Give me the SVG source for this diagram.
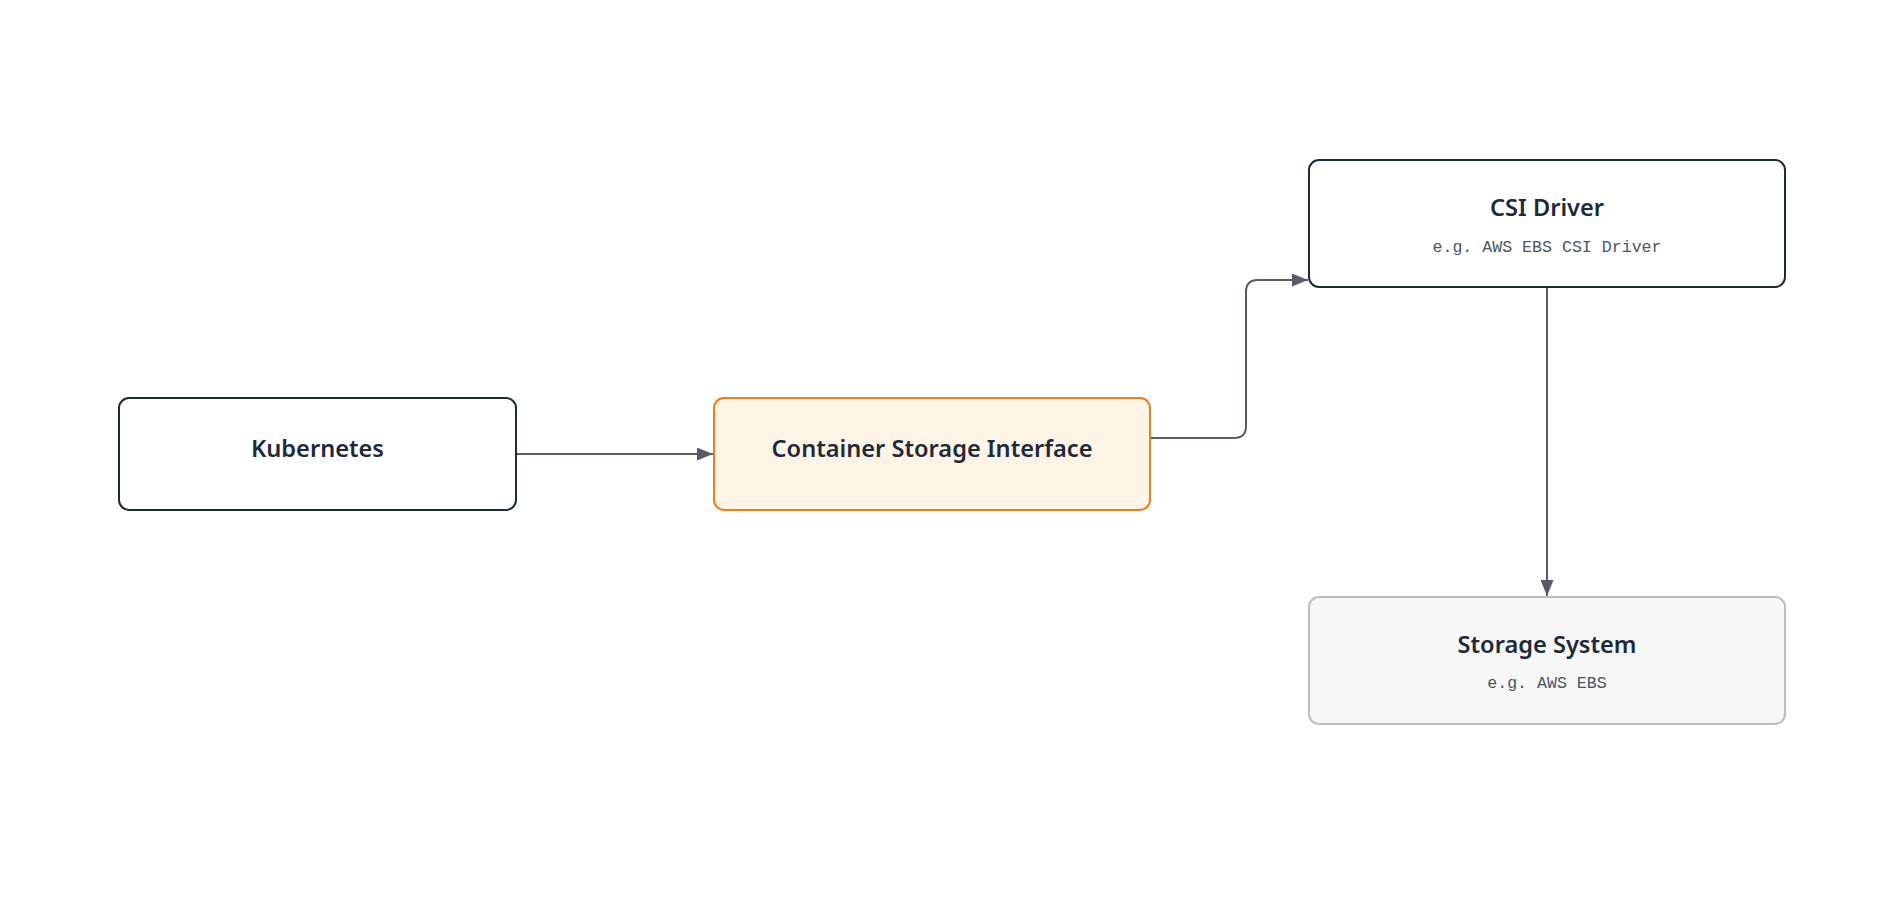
<svg xmlns="http://www.w3.org/2000/svg" width="1904" height="914" viewBox="0 0 1904 914">
  <style>
    .box { fill: #ffffff; stroke: #1f2937; stroke-width: 2; }
    .focus { fill: #fef4e6; stroke: #ef7b1a; stroke-width: 2; }
    .store { fill: #f7f7f7; stroke: #babdc2; stroke-width: 2; }
    .title { font-family: "Noto Sans", "Open Sans", sans-serif; font-weight: 600; font-size: 23.6px; fill: #1e293b; text-anchor: middle; }
    .sub { font-family: "Liberation Mono", "DejaVu Sans Mono", monospace; font-size: 16.6px; fill: #4b5563; text-anchor: middle; }
    .edge { fill: none; stroke: #565d69; stroke-width: 2; }
  </style>
  <defs>
    <marker id="arrow" markerUnits="userSpaceOnUse" markerWidth="16" markerHeight="13" refX="16" refY="6.5" orient="auto">
      <path d="M0,0 L16,6.5 L0,13 z" fill="#565d69"/>
    </marker>
  </defs>
  <rect width="1904" height="914" fill="#ffffff"/>
  <g id="connectors">
    <path class="edge" d="M516,454 H713" marker-end="url(#arrow)"/>
    <path class="edge" d="M1150,438 H1234 Q1246,438 1246,426 V292 Q1246,280 1258,280 H1308" marker-end="url(#arrow)"/>
    <path class="edge" d="M1547,287 V596" marker-end="url(#arrow)"/>
  </g>
  <g id="kubernetes">
    <rect class="box" x="119" y="398" width="397" height="112" rx="10"/>
    <text class="title" x="317.5" y="457">Kubernetes</text>
  </g>
  <g id="csi">
    <rect class="focus" x="714" y="398" width="436" height="112" rx="10"/>
    <text class="title" x="932" y="457">Container Storage Interface</text>
  </g>
  <g id="csi-driver">
    <rect class="box" x="1309" y="160" width="476" height="127" rx="10"/>
    <text class="title" x="1547" y="215.5">CSI Driver</text>
    <text class="sub" x="1547" y="251.5">e.g. AWS EBS CSI Driver</text>
  </g>
  <g id="storage-system">
    <rect class="store" x="1309" y="597" width="476" height="127" rx="10"/>
    <text class="title" x="1547" y="652.5">Storage System</text>
    <text class="sub" x="1547" y="688">e.g. AWS EBS</text>
  </g>
</svg>
